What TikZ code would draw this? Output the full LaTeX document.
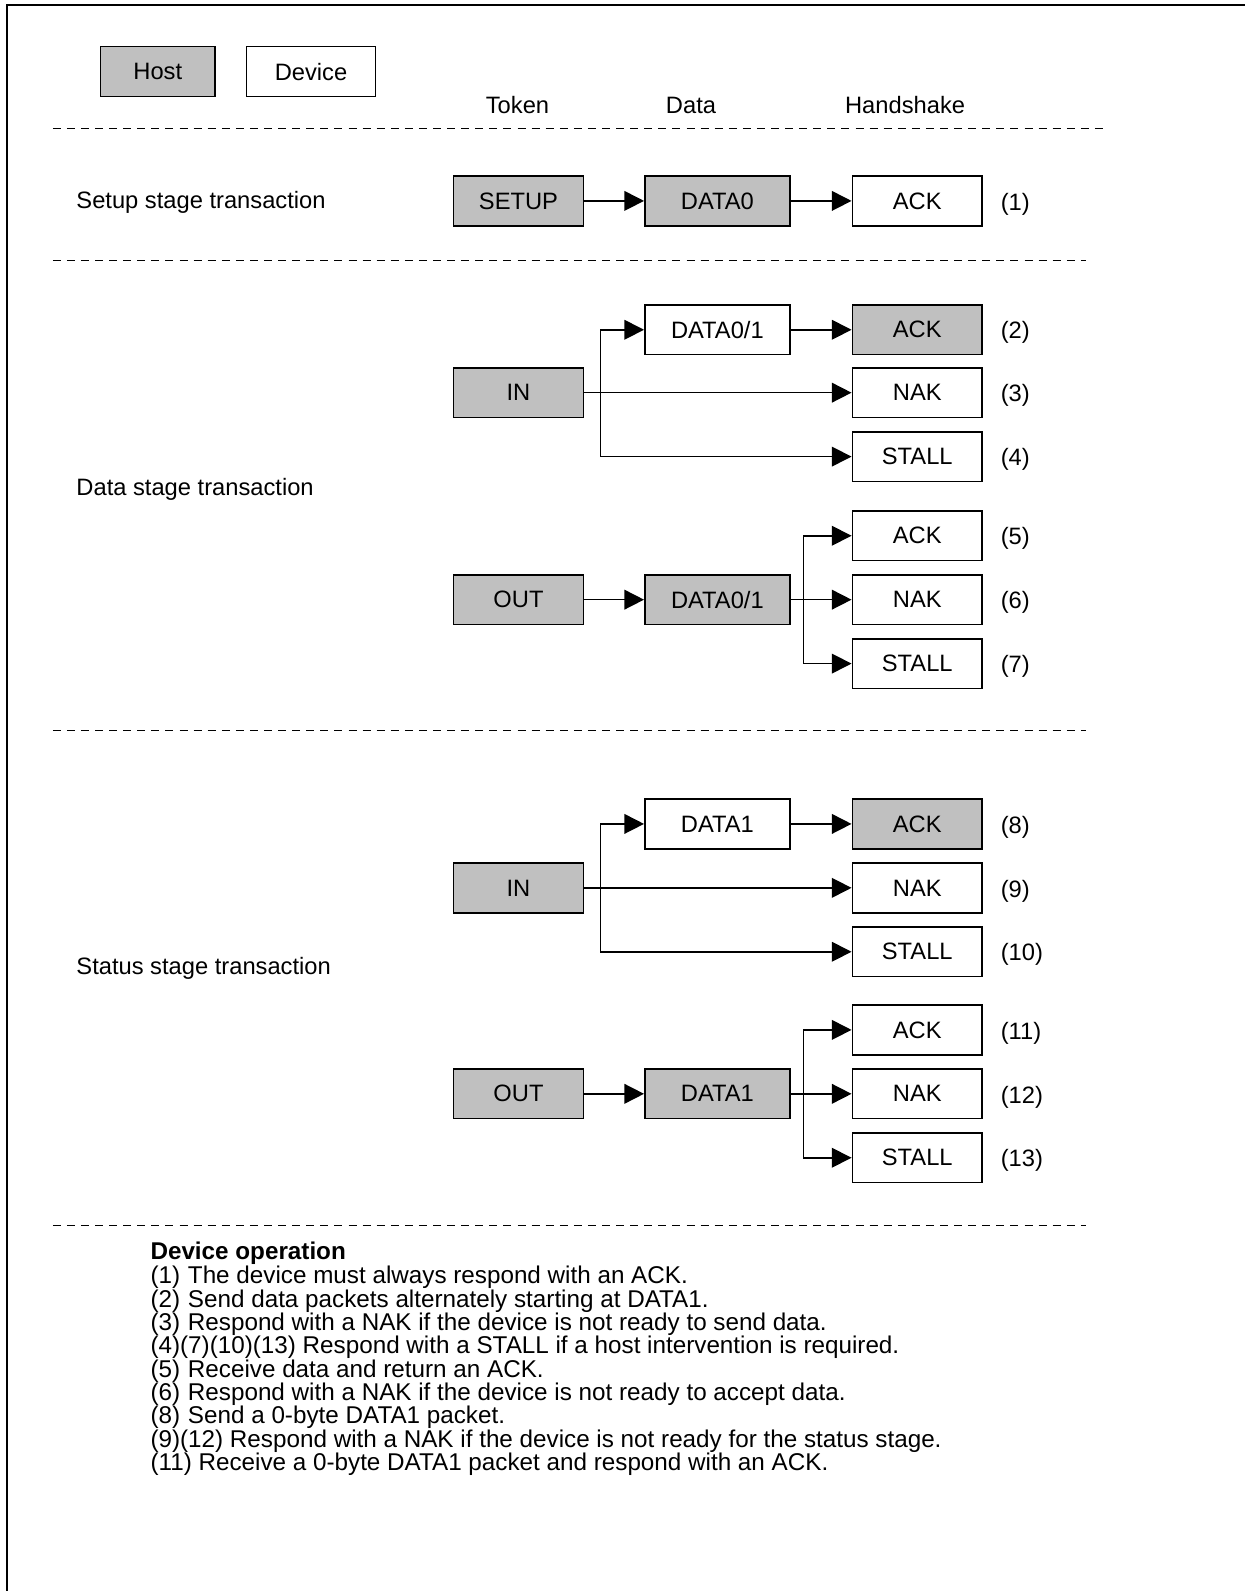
\documentclass[tikz,border=0pt]{standalone}
\usepackage{fontspec}
\setmainfont{Liberation Sans}
\usetikzlibrary{arrows.meta}
\definecolor{hostgrey}{HTML}{C0C0C0}
\definecolor{ink}{HTML}{000000}

\begin{document}
\begin{tikzpicture}[x=0.02cm, y=-0.02cm,
  pkt/.style={draw=ink, line width=0.9pt, minimum width=2.56cm, minimum height=0.98cm,
    inner sep=0pt, font=\fontsize{13.3}{16}\selectfont},
  host/.style={pkt, fill=hostgrey},
  dev/.style={pkt, fill=white},
  wide/.style={minimum width=2.86cm},
  sep/.style={ink, line width=0.6pt, dash pattern=on 4.5pt off 3.4pt},
  flow/.style={-{Triangle[length=11pt,width=11pt]}, line width=0.9pt},
  lbl/.style={anchor=west, inner sep=0pt, font=\fontsize{13.3}{16}\selectfont},
  note/.style={anchor=west, inner sep=0pt, font=\fontsize{13.6}{16}\selectfont}]
  \useasboundingbox (0,0) rectangle (1227,1568);
  \fill[white] (0,0) rectangle (1227,1568);
  \draw[ink, line width=1.2pt] (7,1568) -- (7,5) -- (1227,5);

  \node[host, minimum width=2.26cm] (keyhost) at (155.5,70.5) {Host};
  \node[dev, minimum width=2.54cm] (keydev) at (306.5,70.5) {Device};

  \node[font=\fontsize{13.3}{16}\selectfont] (coltoken) at (510,104) {Token};
  \node[font=\fontsize{13.3}{16}\selectfont] (coldata) at (681,104) {Data};
  \node[font=\fontsize{13.3}{16}\selectfont] (colhs) at (892,104) {Handshake};

  \draw[sep] (52,127) -- (1092,127);
  \draw[sep] (52,257) -- (1070,257);
  \draw[sep] (52,720) -- (1070,720);
  \draw[sep] (52,1208) -- (1070,1208);

  \node[lbl] (stsetup) at (75,199) {Setup stage transaction};
  \node[lbl] (stdata) at (75,482) {Data stage transaction};
  \node[lbl] (ststatus) at (75,954) {Status stage transaction};

  \node[host] (setup) at (511,198) {SETUP};
  \node[host, wide] (sdata) at (707,198) {DATA0};
  \node[dev] (sack) at (904,198) {ACK};
  \draw[flow] (setup) -- (sdata);
  \draw[flow] (sdata) -- (sack);

  \node[host] (dinp) at (511,387) {IN};
  \node[dev, wide] (dindata) at (707,325) {DATA0/1};
  \node[host] (dinack) at (904,325) {ACK};
  \node[dev] (dinnak) at (904,387) {NAK};
  \node[dev] (dinstall) at (904,450) {STALL};
  \coordinate (dinj) at (592,387);
  \draw[flow] (dinp) -- (dinnak);
  \draw[flow] (dinj) |- (dindata);
  \draw[flow] (dinj) |- (dinstall);
  \draw[flow] (dindata) -- (dinack);

  \node[host] (doutp) at (511,591) {OUT};
  \node[host, wide] (doutdata) at (707,591) {DATA0/1};
  \node[dev] (doutack) at (904,528) {ACK};
  \node[dev] (doutnak) at (904,591) {NAK};
  \node[dev] (doutstall) at (904,654) {STALL};
  \coordinate (doutj) at (792,591);
  \draw[flow] (doutp) -- (doutdata);
  \draw[flow] (doutdata) -- (doutnak);
  \draw[flow] (doutj) |- (doutack);
  \draw[flow] (doutj) |- (doutstall);

  \node[host] (sinp) at (511,875) {IN};
  \node[dev, wide] (sindata) at (707,812) {DATA1};
  \node[host] (sinack) at (904,812) {ACK};
  \node[dev] (sinnak) at (904,875) {NAK};
  \node[dev] (sinstall) at (904,938) {STALL};
  \coordinate (sinj) at (592,875);
  \draw[flow] (sinp) -- (sinnak);
  \draw[flow] (sinj) |- (sindata);
  \draw[flow] (sinj) |- (sinstall);
  \draw[flow] (sindata) -- (sinack);

  \node[host] (soutp) at (511,1078) {OUT};
  \node[host, wide] (soutdata) at (707,1078) {DATA1};
  \node[dev] (soutack) at (904,1015) {ACK};
  \node[dev] (soutnak) at (904,1078) {NAK};
  \node[dev] (soutstall) at (904,1141) {STALL};
  \coordinate (soutj) at (792,1078);
  \draw[flow] (soutp) -- (soutdata);
  \draw[flow] (soutdata) -- (soutnak);
  \draw[flow] (soutj) |- (soutack);
  \draw[flow] (soutj) |- (soutstall);

  \foreach \n/\y in {1/198, 2/325, 3/387, 4/450, 5/528, 6/591, 7/654,
                     8/812, 9/875, 10/938, 11/1015, 12/1078, 13/1141}
    \node[lbl] (num\n) at (986,\y+3) {(\n)};

  \node[note, font=\fontsize{13.6}{16}\selectfont\bfseries] (ophead) at (148,1235) {Device operation};
  \foreach \t [count=\i] in {
      {\makebox[21pt][l]{(1)}The device must always respond with an ACK.},
      {\makebox[21pt][l]{(2)}Send data packets alternately starting at DATA1.},
      {\makebox[21pt][l]{(3)}Respond with a NAK if the device is not ready to send data.},
      {(4)(7)(10)(13) Respond with a STALL if a host intervention is required.},
      {\makebox[21pt][l]{(5)}Receive data and return an ACK.},
      {\makebox[21pt][l]{(6)}Respond with a NAK if the device is not ready to accept data.},
      {\makebox[21pt][l]{(8)}Send a 0-byte DATA1 packet.},
      {(9)(12) Respond with a NAK if the device is not ready for the status stage.},
      {(11) Receive a 0-byte DATA1 packet and respond with an ACK.}}
    \node[note] (op\i) at (148,{1236+23*\i}) {\t};
\end{tikzpicture}
\end{document}
